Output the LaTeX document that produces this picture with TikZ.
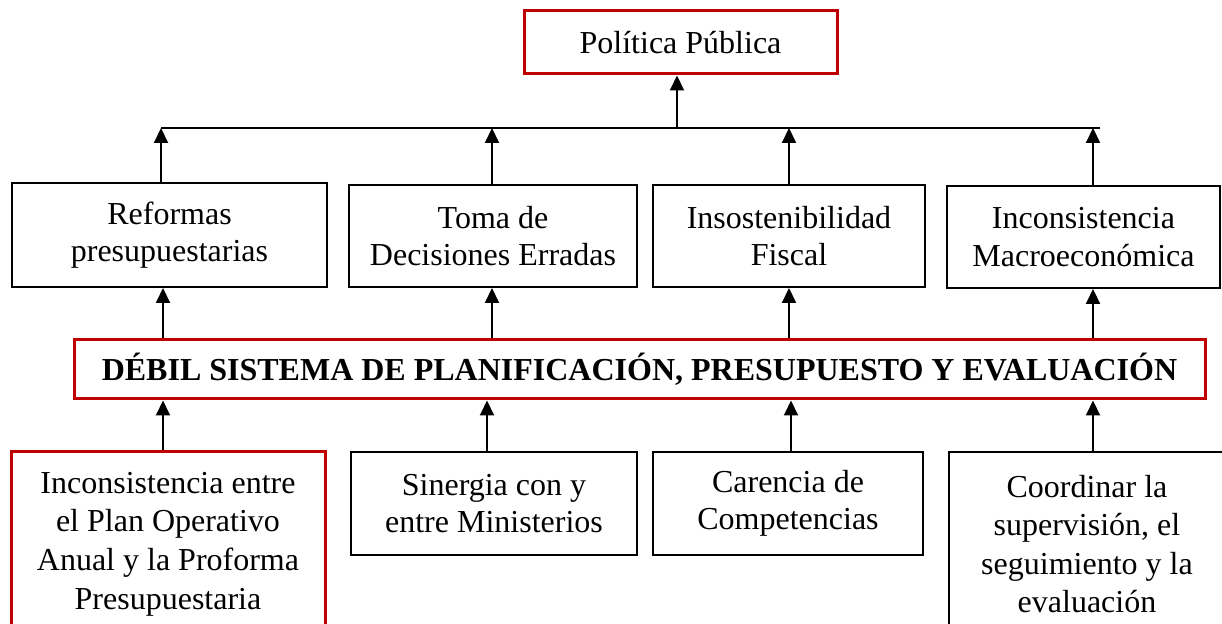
\documentclass[tikz,border=0pt]{standalone}
\usepackage{fontspec}
\setmainfont{Liberation Serif}
\usetikzlibrary{arrows.meta}
\definecolor{dred}{HTML}{C00000}
\begin{document}
\begin{tikzpicture}[x=0.5pt,y=-0.5pt,
  box/.style={draw=black,line width=1pt,inner sep=0pt,align=center,font=\fontsize{16}{18.8}\selectfont},
  redbox/.style={box,draw=dred,line width=1.5pt},
  tall/.style={font=\fontsize{16}{19.3}\selectfont},
  arr/.style={line width=1pt,-{Triangle[length=7.5pt,width=7pt]}},
]
\useasboundingbox (0,0) rectangle (1222,624);
\fill[white] (0,0) rectangle (1222,624);
\clip (0,0) rectangle (1222,624);

\node[redbox,minimum width=156.5pt,minimum height=31.5pt] (pp) at (680.5,42.5) {Política Pública};

\node[box,minimum width=157.5pt,minimum height=52pt] (b1) at (169.5,235) {Reformas\\presupuestarias};
\node[box,minimum width=144pt,minimum height=51pt] (b2) at (493,236) {Toma de\\Decisiones Erradas};
\node[box,minimum width=136pt,minimum height=51pt] (b3) at (789,236) {Insostenibilidad\\Fiscal};
\node[box,minimum width=136.5pt,minimum height=51pt] (b4) at (1083.5,237) {Inconsistencia\\Macroeconómica};

\node[redbox,minimum width=565.5pt,minimum height=29.5pt,font=\fontsize{16}{18.8}\selectfont\bfseries] (main) at (639.5,369.5) {DÉBIL SISTEMA DE PLANIFICACIÓN, PRESUPUESTO Y EVALUACIÓN};

\node[redbox,tall,minimum width=157pt,minimum height=92pt] (l1) at (168,544) {Inconsistencia entre\\el Plan Operativo\\Anual y la Proforma\\Presupuestaria};
\node[box,minimum width=143pt,minimum height=51.5pt] (l2) at (494,503.5) {Sinergia con y\\entre Ministerios};
\node[box,minimum width=135pt,minimum height=51.5pt] (l3) at (788,503.5) {Carencia de\\Competencias};
\node[box,tall,minimum width=138pt,minimum height=92pt] (l4) at (1087,544) {Coordinar la\\supervisión, el\\seguimiento y la\\evaluación};

% horizontal collector line
\coordinate (hl) at (161,128);
\coordinate (hr) at (1100,128);
\coordinate (t0) at (677,128);
\coordinate (t2) at (492,128);
\coordinate (t3) at (789,128);
\coordinate (t4) at (1093,128);
\draw[line width=1pt] (hl) -- (hr);
\draw[arr] (t0) -- (pp.south -| t0);
\draw[arr] (b1.north -| hl) -- (hl);
\draw[arr] (b2.north -| t2) -- (t2);
\draw[arr] (b3.north -| t3) -- (t3);
\draw[arr] (b4.north -| t4) -- (t4);

% main to effects
\coordinate (m1) at (163,0);
\coordinate (m2) at (492,0);
\coordinate (m3) at (789,0);
\coordinate (m4) at (1093,0);
\draw[arr] (main.north -| m1) -- (b1.south -| m1);
\draw[arr] (main.north -| m2) -- (b2.south -| m2);
\draw[arr] (main.north -| m3) -- (b3.south -| m3);
\draw[arr] (main.north -| m4) -- (b4.south -| m4);

% causes to main
\coordinate (c1) at (163,0);
\coordinate (c2) at (487,0);
\coordinate (c3) at (791,0);
\coordinate (c4) at (1093,0);
\draw[arr] (l1.north -| c1) -- (main.south -| c1);
\draw[arr] (l2.north -| c2) -- (main.south -| c2);
\draw[arr] (l3.north -| c3) -- (main.south -| c3);
\draw[arr] (l4.north -| c4) -- (main.south -| c4);
\end{tikzpicture}
\end{document}
